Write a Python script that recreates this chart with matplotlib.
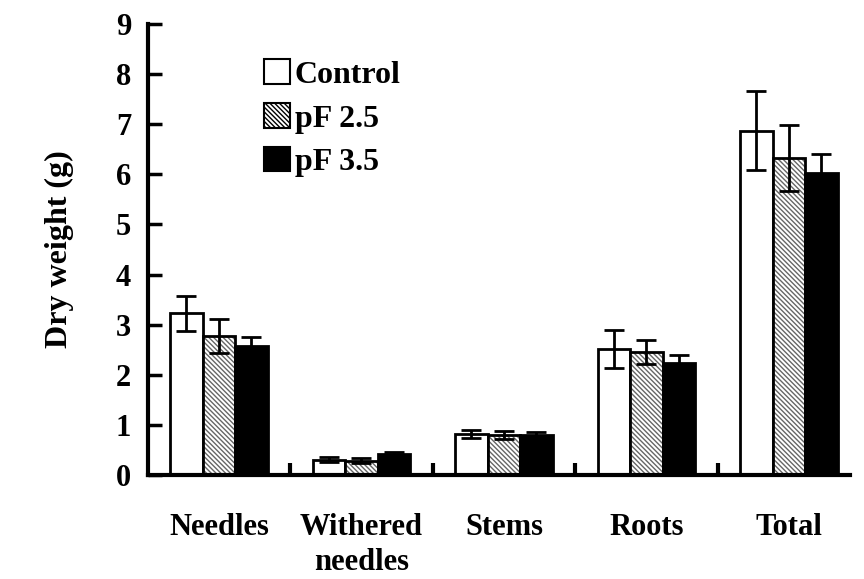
import numpy as np
import matplotlib.pyplot as plt
from matplotlib import rcParams
from matplotlib.patches import Patch

rcParams['font.family'] = ['Liberation Serif', 'DejaVu Serif']
rcParams['font.weight'] = 'bold'
rcParams['hatch.linewidth'] = 1.0

# 数据
categories = ['Needles', 'Withered\nneedles', 'Stems', 'Roots', 'Total']
series_names = ['Control', 'pF 2.5', 'pF 3.5']
control = [3.23, 0.30, 0.82, 2.51, 6.87]
control_err = [0.35, 0.05, 0.08, 0.38, 0.79]
pf25 = [2.77, 0.28, 0.80, 2.45, 6.33]
pf25_err = [0.34, 0.05, 0.08, 0.24, 0.66]
pf35 = [2.57, 0.42, 0.80, 2.23, 6.03]
pf35_err = [0.18, 0.03, 0.05, 0.17, 0.38]

fig = plt.figure(figsize=(8.64, 5.79), dpi=100)
ax = fig.add_axes([0.171, 0.1796, 0.813, 0.779])

x = np.arange(len(categories))
w = 0.228
err_kw = dict(ecolor='black', elinewidth=2, capsize=7, capthick=2)
hatch_col = '#666666'
hatch_pat = '\\\\\\\\\\\\\\'

ax.bar(x - w, control, w, yerr=control_err, color='white', edgecolor='black',
       linewidth=2, error_kw=err_kw, label=series_names[0])
ax.bar(x, pf25, w, yerr=pf25_err, color='white', edgecolor=hatch_col, hatch=hatch_pat,
       linewidth=0, error_kw=err_kw, label=series_names[1])
ax.bar(x, pf25, w, color='none', edgecolor='black', linewidth=2)
ax.bar(x + w, pf35, w, yerr=pf35_err, color='black', edgecolor='black',
       linewidth=2, error_kw=err_kw, label=series_names[2])

ax.set_ylim(0, 9)
ax.set_xlim(-0.5, 4.43)
ax.set_yticks(range(10))
ax.set_xticks(x)
ax.set_xticklabels(categories, fontsize=22, fontweight='bold', linespacing=1.28)
ax.set_xticks(x[:-1] + 0.5, minor=True)
ax.tick_params(axis='x', which='major', length=0, pad=27)
ax.tick_params(axis='x', which='minor', direction='in', length=9, width=3)
ax.tick_params(axis='y', direction='in', length=10, width=2.5, labelsize=22, pad=12)
for lab in ax.get_yticklabels():
    lab.set_fontweight('bold')

ax.spines['top'].set_visible(False)
ax.spines['right'].set_visible(False)
ax.spines['left'].set_linewidth(3)
ax.spines['bottom'].set_linewidth(3)

ax.set_ylabel('Dry weight (g)', fontsize=23, fontweight='bold', labelpad=30)

handles = [Patch(facecolor='white', edgecolor='black', linewidth=1.5),
           Patch(facecolor='white', edgecolor=hatch_col, hatch=hatch_pat, linewidth=1.5),
           Patch(facecolor='black', edgecolor='black', linewidth=1.5)]
leg = ax.legend(handles, series_names, loc='upper left', bbox_to_anchor=(0.125, 0.985),
                frameon=False, prop={'size': 23, 'weight': 'bold'},
                handlelength=0.8, handleheight=0.8, handletextpad=0.15, labelspacing=0.42)
for p in leg.get_patches():
    p.set_edgecolor('black')

fig.savefig('out.png', dpi=100)
